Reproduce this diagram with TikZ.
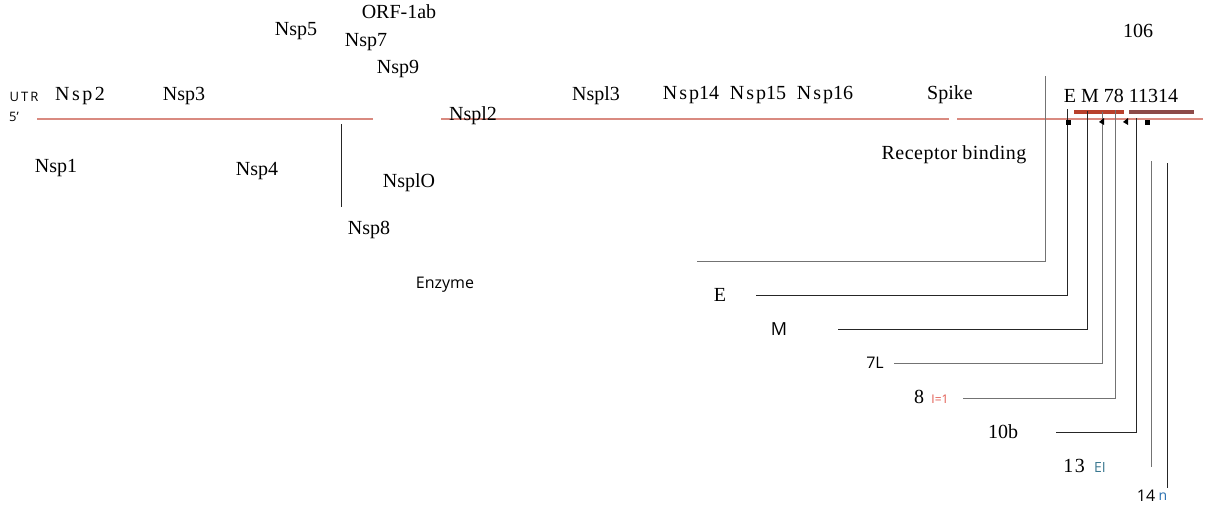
\documentclass[tikz,border=0pt]{standalone}
\usepackage{fontspec}
\setmainfont{Liberation Serif}
\setsansfont{Open Sans}
\definecolor{genred}{HTML}{D98A80}
\definecolor{barred}{HTML}{B8402C}
\definecolor{barbrown}{HTML}{8C4A48}
\definecolor{lblred}{HTML}{E0564C}
\definecolor{lblteal}{HTML}{3A7890}
\definecolor{lblblue}{HTML}{2A70B0}
\begin{document}
\begin{tikzpicture}[x=1pt,y=-1pt,
  ser/.style={font=\fontsize{20}{20}\selectfont, inner sep=0pt},
  sml/.style={font=\sffamily\fontsize{13}{13}\selectfont, inner sep=0pt},
  smd/.style={font=\sffamily\fontsize{16}{16}\selectfont, inner sep=0pt},
  tiny/.style={font=\sffamily\fontsize{12}{12}\selectfont, inner sep=0pt},
  genome/.style={draw=genred, line width=1.4pt},
  lead/.style={draw=black!85, line width=0.9pt},
  graylead/.style={draw=black!55, line width=0.9pt},
  gbar/.style={line width=4pt},
  tickmark/.style={fill=black, draw=none},
]
\useasboundingbox (0,0) rectangle (1207,509);

% genome line
\coordinate (g1s) at (37,119);
\coordinate (g1e) at (373,119);
\coordinate (g2s) at (441,119);
\coordinate (g2e) at (949,119);
\coordinate (g3s) at (957,119);
\coordinate (g3e) at (1203,119);
\draw[genome] (g1s) -- (g1e);
\draw[genome] (g2s) -- (g2e);
\draw[genome] (g3s) -- (g3e);

% structural gene bars
\coordinate (b1s) at (1074,112);
\coordinate (b1e) at (1124,112);
\coordinate (b2s) at (1129,112);
\coordinate (b2e) at (1194,112);
\draw[gbar, barred] (b1s) -- (b1e);
\draw[gbar, barbrown] (b2s) -- (b2e);

% top labels
\node[ser] (orf) at (399,12) {ORF-1ab};
\node[ser] (nsp5) at (296,31) {Nsp5};
\node[ser] (nsp7) at (366,42) {Nsp7};
\node[ser] (nsp9) at (398,69) {Nsp9};
\node[sml] (utr) at (24,97) {U\kern2pt T\kern2pt R};
\node[ser] (nsp2) at (80,96) {N\kern2.5pt s\kern2.5pt p\kern2.5pt 2};
\node[ser] (nsp3) at (184,96) {Nsp3};
\node[sml] (five) at (14,117) {5'};
\node[ser] (nsp1) at (56,168) {Nsp1};
\node[ser] (nsp4) at (257,171) {Nsp4};
\node[ser] (nsp10) at (409,183) {NsplO};
\node[ser] (nsp8) at (369,230) {Nsp8};
\node[font=\sffamily\fontsize{16}{16}\selectfont, inner sep=0pt] (enz) at (445,285) {Enzyme};
\node[ser] (nsp12) at (473,116) {Nspl2};
\node[ser] (nsp13) at (596,96) {Nspl3};
\node[ser] (nsp14) at (691,95) {N\kern2pt s\kern2pt p14};
\node[ser] (nsp15) at (758,95) {N\kern2pt s\kern2pt p15};
\node[ser] (nsp16) at (825,95) {N\kern2pt s\kern2pt p16};
\node[ser] (spike) at (950,95) {Spike};
\node[ser] (rb) at (954,155) {R\kern0.5pt e\kern0.5pt c\kern0.5pt e\kern0.5pt p\kern0.5pt t\kern0.5pt o\kern0.5pt r b\kern0.5pt i\kern0.5pt n\kern0.5pt d\kern0.5pt i\kern0.5pt n\kern0.5pt g};
\node[ser] (n106) at (1138,31) {106};
\node[ser] (em) at (1121,96) {E M 78 11314};

% nsp4 tick
\coordinate (t1) at (341,124);
\coordinate (t2) at (341,207);
\draw[lead] (t1) -- (t2);

% leader lines
\coordinate (l0a) at (697,261);
\coordinate (l0b) at (1045,76);
\draw[graylead] (l0a) -| (l0b);

\node[ser] (le) at (720,295) {E};
\coordinate (l1a) at (756,295);
\coordinate (l1b) at (1067,109);
\draw[lead] (l1a) -| (l1b);

\node[font=\sffamily\fontsize{18}{18}\selectfont, inner sep=0pt] (lm) at (779,329) {M};
\coordinate (l2a) at (838,329);
\coordinate (l2b) at (1087,111);
\draw[lead] (l2a) -| (l2b);

\node[smd] (l7) at (875,363) {7L};
\coordinate (l3a) at (894,363);
\coordinate (l3b) at (1102,112);
\draw[graylead] (l3a) -| (l3b);

\node[ser] (l8) at (919,397) {8};
\node[tiny, text=lblred] (l8b) at (940,399) {I=1};
\coordinate (l4a) at (963,398);
\coordinate (l4b) at (1115,110);
\draw[graylead] (l4a) -| (l4b);

\node[ser] (l10) at (1003,432) {10b};
\coordinate (l5a) at (1056,432);
\coordinate (l5b) at (1136,118);
\draw[lead] (l5a) -| (l5b);

\node[ser] (l13) at (1074,466) {1\kern1.5pt 3};
\node[font=\sffamily\fontsize{14}{14}\selectfont, inner sep=0pt, text=lblteal] (l13b) at (1100,467) {EI};
\coordinate (l6a) at (1151,161);
\coordinate (l6b) at (1151,467);
\draw[graylead] (l6a) -- (l6b);

\node[smd] (l14) at (1146,496) {14};
\node[font=\sffamily\fontsize{14}{14}\selectfont, inner sep=0pt, text=lblblue] (l14b) at (1163,497) {n};
\coordinate (l7a) at (1167,163);
\coordinate (l7b) at (1167,488);
\draw[lead] (l7a) -- (l7b);

% small markers on genome line
\fill[tickmark] (1066,120) rectangle (1071,125);
\fill[tickmark] (1099,122) -- (1104,118) -- (1104,125) -- cycle;
\fill[tickmark] (1123,122) -- (1128,118) -- (1128,125) -- cycle;
\fill[tickmark] (1145,120) rectangle (1150,125);
\end{tikzpicture}
\end{document}
